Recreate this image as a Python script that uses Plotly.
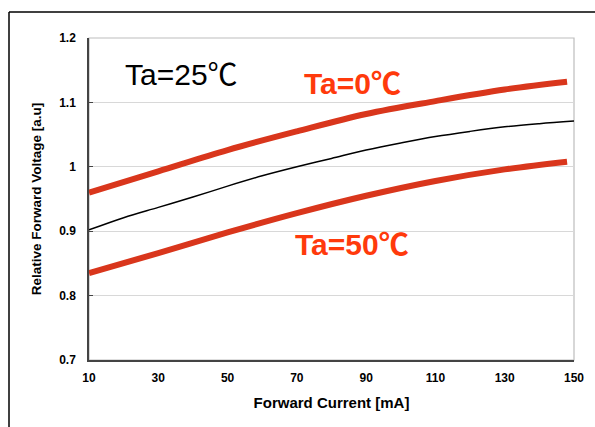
import plotly.graph_objects as go

# Forward current [mA]
current_red = [10, 30, 50, 70, 90, 110, 130, 148]
current_black = [10, 20, 30, 40, 50, 60, 70, 80, 90, 100, 110, 120, 130, 140, 150]

# Relative forward voltage [a.u]
v_ta0 = [0.960, 0.993, 1.026, 1.055, 1.082, 1.102, 1.120, 1.132]
v_ta25 = [0.902, 0.921, 0.937, 0.953, 0.970, 0.986, 1.000, 1.013, 1.026, 1.037, 1.047, 1.055, 1.062, 1.067, 1.071]
v_ta50 = [0.835, 0.866, 0.898, 0.928, 0.955, 0.978, 0.996, 1.008]

x_ticks = [10, 30, 50, 70, 90, 110, 130, 150]
y_ticks = [0.7, 0.8, 0.9, 1.0, 1.1, 1.2]
y_tick_text = ["0.7", "0.8", "0.9", "1", "1.1", "1.2"]

RED_LINE = "#D9361C"
RED_TEXT = "#FF3A0C"
FONT = "Liberation Sans, Arial, Noto Sans CJK JP, sans-serif"

W, H = 595, 427
L, R, T, B = 89, 21, 38, 67
pw, ph = W - L - R, H - T - B

def px_x(px):
    return (px - L) / pw

def px_y(py):
    return (H - B - py) / ph

fig = go.Figure()
fig.add_trace(go.Scatter(x=current_red, y=v_ta0, mode="lines",
                         line=dict(color=RED_LINE, width=6, shape="spline"),
                         showlegend=False))
fig.add_trace(go.Scatter(x=current_black, y=v_ta25, mode="lines",
                         line=dict(color="#000000", width=1.5, shape="spline"),
                         showlegend=False))
fig.add_trace(go.Scatter(x=current_red, y=v_ta50, mode="lines",
                         line=dict(color=RED_LINE, width=6, shape="spline"),
                         showlegend=False))

fig.update_layout(
    width=W, height=H,
    margin=dict(l=L, r=R, t=T, b=B),
    paper_bgcolor="white", plot_bgcolor="white",
    font=dict(family=FONT, color="#000000"),
    xaxis=dict(range=[10, 150], tickvals=x_ticks, ticks="inside", ticklen=0,
               showgrid=False, zeroline=False, showline=True, linecolor="#444444",
               linewidth=1.5, tickfont=dict(size=12, weight="bold"),
               ticklabelstandoff=6,
               title=dict(text="Forward Current [mA]", font=dict(size=15, weight="bold"), standoff=13)),
    yaxis=dict(range=[0.7, 1.2], tickvals=y_ticks, ticktext=y_tick_text,
               ticks="inside", ticklen=4, tickcolor="#444444",
               showgrid=True, gridcolor="#D8D8D8", gridwidth=1, zeroline=False,
               showline=True, linecolor="#444444", linewidth=1.5,
               tickfont=dict(size=12, weight="bold"), ticklabelstandoff=9,
               title=dict(text="Relative Forward Voltage [a.u]", font=dict(size=13.5, weight="bold"), standoff=14)),
    shapes=[
        dict(type="rect", xref="paper", yref="paper", x0=0, x1=1, y0=0, y1=1,
             line=dict(color="#BDBDBD", width=1.2), layer="below"),
        dict(type="line", xref="paper", yref="paper", x0=px_x(9), x1=px_x(600),
             y0=px_y(12), y1=px_y(12), line=dict(color="#000000", width=1.5)),
        dict(type="line", xref="paper", yref="paper", x0=px_x(9), x1=px_x(9),
             y0=px_y(12), y1=px_y(430), line=dict(color="#000000", width=1.5)),
    ],
    annotations=[
        dict(x=36.6, y=1.143, xref="x", yref="y", text="Ta=25℃", showarrow=False,
             font=dict(size=30, color="#000000")),
        dict(x=86.2, y=1.130, xref="x", yref="y", text="<b>Ta=0℃</b>", showarrow=False,
             font=dict(size=30, color=RED_TEXT)),
        dict(x=85.8, y=0.880, xref="x", yref="y", text="<b>Ta=50℃</b>", showarrow=False,
             font=dict(size=30, color=RED_TEXT)),
    ],
)

fig.write_html("out.html", config={"displayModeBar": False},
               post_script="document.body.style.margin='0px';")
